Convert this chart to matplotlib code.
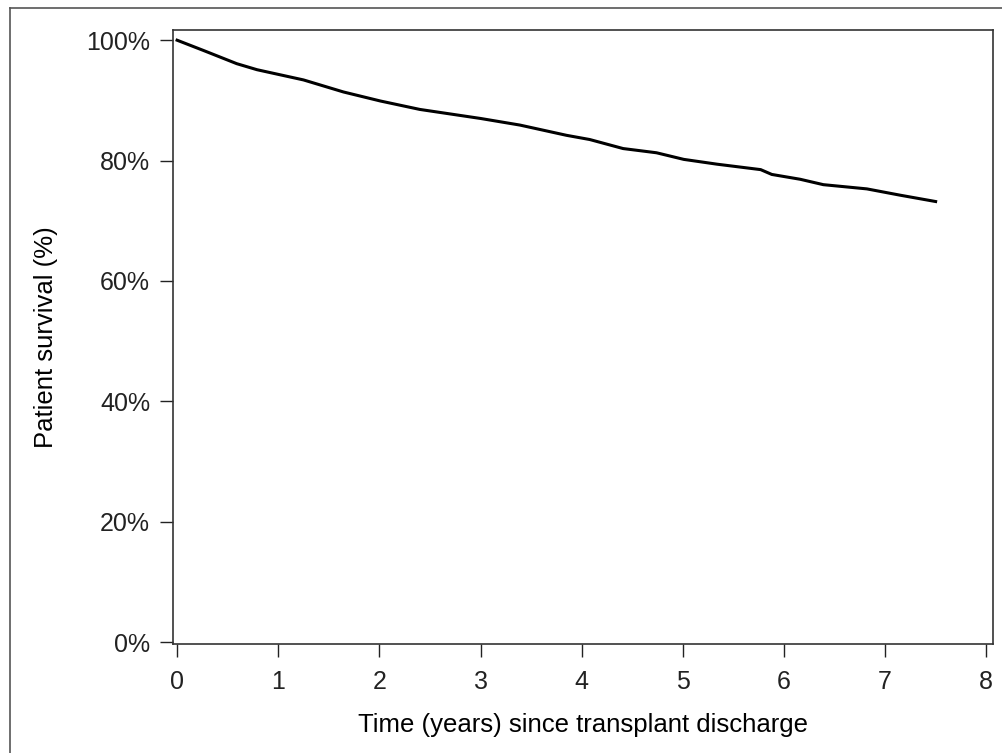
import matplotlib

matplotlib.use("Agg")
import matplotlib.pyplot as plt
from matplotlib.lines import Line2D

# survival curve (years, % surviving)
years = [0.0, 0.26, 0.59, 0.79, 1.25, 1.645, 2.01, 2.40, 3.0, 3.39, 3.85, 4.08,
         4.41, 4.74, 5.01, 5.34, 5.77, 5.88, 6.16, 6.39, 6.82, 7.15, 7.50]
survival = [100.0, 98.3, 96.1, 95.1, 93.4, 91.4, 89.9, 88.5, 87.0, 85.9, 84.2, 83.5,
            82.0, 81.3, 80.2, 79.4, 78.5, 77.7, 76.9, 76.0, 75.3, 74.25, 73.2]

xticks = list(range(0, 9))
yticks = [0, 20, 40, 60, 80, 100]
ylabels = [f"{v}%" for v in yticks]

INK = "#222222"
plt.rcParams.update({
    "font.family": "Liberation Sans", "font.size": 18,
    "axes.edgecolor": "#333333", "axes.linewidth": 1.2,
    "xtick.color": INK, "ytick.color": INK, "text.color": INK,
})

fig = plt.figure(figsize=(10.02, 7.53), dpi=100)
ax = fig.add_axes([0.1727, 0.1448, 0.8186, 0.8154])
ax.plot(years, survival, color="black", linewidth=2.2, solid_joinstyle="miter")

ax.set_xlim(-0.04, 8.07)
ax.set_ylim(-0.3, 101.7)
ax.set_xticks(xticks)
ax.set_yticks(yticks)
ax.set_yticklabels(ylabels)
ax.tick_params(direction="out", length=9.5, width=1.0, labelsize=18)
ax.tick_params(axis="x", pad=9)
ax.tick_params(axis="y", pad=7)
ax.set_xlabel("Time (years) since transplant discharge", fontsize=18.5, labelpad=14)
ax.set_ylabel("Patient survival (%)", fontsize=18.5, labelpad=20)

# outer frame (top and left edges visible in the source)
fig.add_artist(Line2D([10 / 1002, 1.0], [1 - 7.5 / 753, 1 - 7.5 / 753],
                      transform=fig.transFigure, color="#555555", linewidth=1.2))
fig.add_artist(Line2D([10 / 1002, 10 / 1002], [0.0, 1 - 7.5 / 753],
                      transform=fig.transFigure, color="#555555", linewidth=1.2))

fig.savefig("out.png", dpi=100)
